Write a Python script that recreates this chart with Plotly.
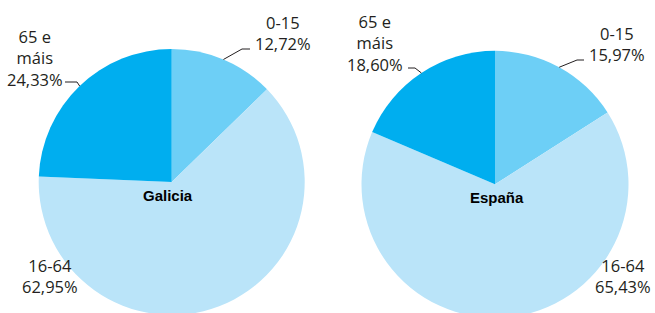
import math
import plotly.graph_objects as go

# ---- data ----
groups = ["0-15", "16-64", "65 e<br>máis"]
galicia_values = [12.72, 62.95, 24.33]
espana_values = [15.97, 65.43, 18.60]
galicia_labels = ["12,72%", "62,95%", "24,33%"]
espana_labels = ["15,97%", "65,43%", "18,60%"]
regions = ["Galicia", "España"]
colors = ["#6DCFF6", "#BAE4F9", "#00AEEF"]

W, H = 655, 320
TEXT = "#231F20"
FONT = "Open Sans"


def px(x, y):
    return x / W, (H - y) / H


fig = go.Figure()

# pie geometry (pixels): centre x, centre y, radius
pies = [(171.7, 182.0, 133.0), (495.0, 184.3, 133.5)]
for name, vals, (cx, cy, r) in zip(regions, [galicia_values, espana_values], pies):
    x0, _ = px(cx - r, 0)
    x1, _ = px(cx + r, 0)
    _, y0 = px(0, cy + r)
    _, y1 = px(0, cy - r)
    fig.add_trace(go.Pie(
        labels=groups, values=vals, sort=False, direction="clockwise",
        rotation=0, textinfo="none", hoverinfo="label+percent",
        marker=dict(colors=colors, line=dict(width=0)),
        domain=dict(x=[x0, x1], y=[y0, y1]), showlegend=False,
    ))

# label positions (pixel centres of text blocks)
label_pos = {
    "Galicia": [(283, 33), (50, 275.5), (35, 58)],
    "España": [(617, 44), (622.5, 275.5), (375, 43)],
}
title_pos = {"Galicia": (168, 195), "España": (497, 197.5)}
# leader-line elbow and end points for 0-15 and 65+ slices
leaders = {
    "Galicia": {0: [(242, 49), (250, 49)], 2: [(77, 82), (65, 82)]},
    "España": {0: [(577, 60), (584, 60)], 2: [(415, 68), (408, 68)]},
}

annotations = []
shapes = []
for name, vals, pct, (cx, cy, r) in zip(regions, [galicia_values, espana_values],
                                          [galicia_labels, espana_labels], pies):
    total = sum(vals)
    cum = 0.0
    for i, v in enumerate(vals):
        mid = (cum + v / 2) / total * 2 * math.pi
        cum += v
        lx, ly = label_pos[name][i]
        x, y = px(lx, ly)
        annotations.append(dict(
            x=x, y=y, xref="paper", yref="paper", xanchor="center", yanchor="middle",
            text=f"{groups[i]}<br>{pct[i]}", showarrow=False, align="center",
            font=dict(family=FONT, size=16.5, color=TEXT),
        ))
        if i in leaders[name]:
            ex = cx + r * math.sin(mid)
            ey = cy - r * math.cos(mid)
            pts = [(ex, ey)] + leaders[name][i]
            path = "M " + " L ".join(f"{px(a, b)[0]},{px(a, b)[1]}" for a, b in pts)
            shapes.append(dict(type="path", xref="paper", yref="paper", path=path,
                               line=dict(color=TEXT, width=1)))
    tx, ty = px(*title_pos[name])
    annotations.append(dict(
        x=tx, y=ty, xref="paper", yref="paper", xanchor="center", yanchor="middle",
        text=f"<b>{name}</b>", showarrow=False,
        font=dict(family="Liberation Sans, Arial", size=15, color="#000000"),
    ))

fig.update_layout(
    width=W, height=H, margin=dict(l=0, r=0, t=0, b=0),
    paper_bgcolor="white", plot_bgcolor="white",
    annotations=annotations, shapes=shapes,
)

fig.write_html(
    "out.html",
    config={"displayModeBar": False},
    post_script=("document.body.style.margin='0';document.body.style.overflow='hidden';"
                 "document.documentElement.style.overflow='hidden';"),
)
